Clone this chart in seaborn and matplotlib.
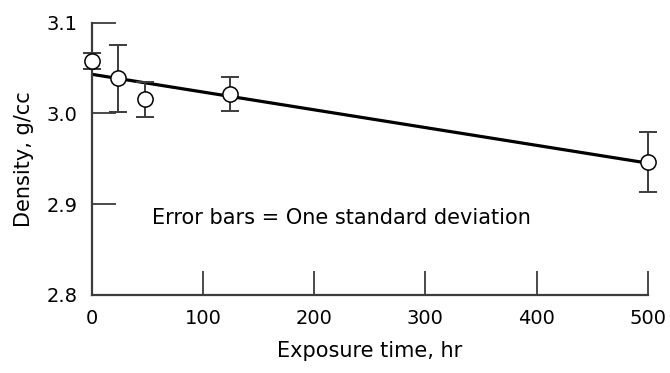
import matplotlib
matplotlib.use("Agg")
import matplotlib.pyplot as plt
import seaborn as sns
import numpy as np
import pandas as pd

# Data
exposure_hr = [0, 24, 48, 124, 500]
density = [3.0577, 3.0386, 3.0154, 3.0213, 2.9463]
std_dev = [0.009, 0.037, 0.019, 0.019, 0.033]
x_ticks = [0, 100, 200, 300, 400, 500]
y_ticks = [2.8, 2.9, 3.0, 3.1]
note = "Error bars = One standard deviation"

df = pd.DataFrame({"time": exposure_hr, "density": density, "sd": std_dev})

sns.set_theme(style="ticks")
plt.rcParams["font.family"] = ["DejaVu Sans"]

fig = plt.figure(figsize=(6.7, 3.73), dpi=100)
ax = fig.add_axes([0.1369, 0.2099, 0.8299, 0.7292])

axis_col = "#3c3c3c"

# fitted line
sns.regplot(data=df, x="time", y="density", ci=None, scatter=False,
            line_kws=dict(color="black", lw=2.3, zorder=2), ax=ax)

# error bars
eb = ax.errorbar(df["time"], df["density"], yerr=df["sd"], fmt="none",
                 ecolor=axis_col, elinewidth=1.4, capsize=6.5, capthick=1.4, zorder=3)
for child in eb.get_children():
    child.set_clip_on(False)

# points
sns.scatterplot(data=df, x="time", y="density", ax=ax, s=120, marker="o",
                facecolor="white", edgecolor="black", linewidth=1.1, zorder=4,
                clip_on=False)

ax.set_xlim(0, 500)
ax.set_ylim(2.8, 3.1)
ax.set_xticks(x_ticks)
ax.set_yticks(y_ticks)
ax.set_xticklabels([str(t) for t in x_ticks])
ax.set_yticklabels([f"{t:.1f}" for t in y_ticks])
ax.tick_params(axis="both", direction="in", length=17, width=1.3, color=axis_col,
               labelsize=14, labelcolor="black")
ax.tick_params(axis="x", pad=10)
ax.tick_params(axis="y", pad=10)

for s in ["top", "right"]:
    ax.spines[s].set_visible(False)
for s in ["left", "bottom"]:
    ax.spines[s].set_color(axis_col)
    ax.spines[s].set_linewidth(1.6)

ax.set_xlabel("Exposure time, hr", fontsize=15, labelpad=10, color="black")
ax.set_ylabel("Density, g/cc", fontsize=15, labelpad=9, color="black")

ax.text(54, 2.878, note, fontsize=15, va="baseline", ha="left", color="black")

fig.savefig("out.png", dpi=100, facecolor="white")
